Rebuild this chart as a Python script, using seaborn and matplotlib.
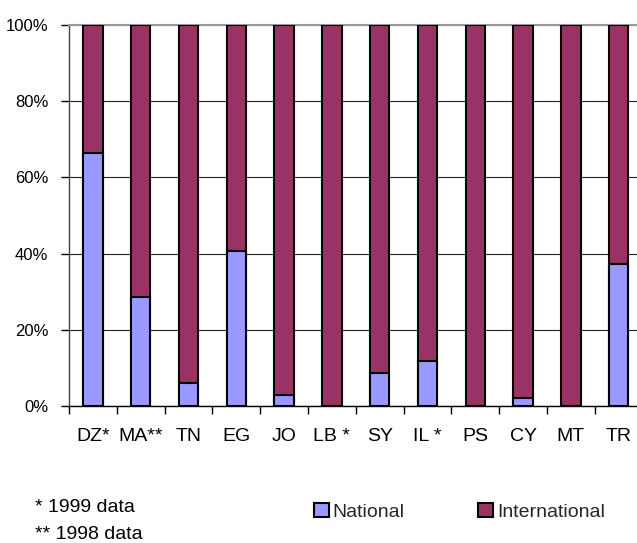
import matplotlib
matplotlib.use('Agg')
import matplotlib.pyplot as plt
import seaborn as sns
import pandas as pd
from matplotlib.patches import Patch
from matplotlib.ticker import FixedLocator, PercentFormatter

# ---- data ----
countries = ["DZ*", "MA**", "TN", "EG", "JO", "LB *", "SY", "IL *", "PS", "CY", "MT", "TR"]
national = [66.5, 28.7, 6.1, 40.7, 2.9, 0.0, 8.7, 11.8, 0.0, 2.2, 0.0, 37.2]
international = [33.5, 71.3, 93.9, 59.3, 97.1, 100.0, 91.3, 88.2, 100.0, 97.8, 100.0, 62.8]
series_labels = ["National", "International"]
footnotes = ["* 1999 data", "** 1998 data"]
y_ticks = [0, 20, 40, 60, 80, 100]

nat_color = "#9999FF"
intl_color = "#993366"

df = pd.DataFrame({"country": countries, "national": national,
                   "international": international})
df["total"] = df["national"] + df["international"]

sns.set_theme(style="white")
plt.rcParams["font.family"] = ["Liberation Sans", "DejaVu Sans"]

fs_x = 14
fs_y = 12
fs_leg = 14
fs_note = 14

W, H = 637, 543
fig = plt.figure(figsize=(W / 100, H / 100), dpi=100)
ax = fig.add_axes([69 / W, 1 - 406 / H, 573.6 / W, 381 / H])

sns.barplot(data=df, x="country", y="total", color=intl_color, saturation=1,
            width=0.41, edgecolor="black", linewidth=1.5, ax=ax, zorder=3)
sns.barplot(data=df, x="country", y="national", color=nat_color, saturation=1,
            width=0.41, edgecolor="black", linewidth=1.5, ax=ax, zorder=4)

ax.set_xlim(-0.5, len(countries) - 0.5)
ax.set_ylim(0, 100)
ax.set_yticks(y_ticks)
ax.yaxis.set_major_formatter(PercentFormatter(decimals=0))
ax.set_xlabel("")
ax.set_ylabel("")

ax.yaxis.grid(True, color="#222222", linewidth=0.8)
ax.xaxis.grid(False)
ax.set_axisbelow(True)

ax.tick_params(axis="x", which="major", length=0, pad=16, labelsize=fs_x,
               labelcolor="black")
ax.xaxis.set_minor_locator(FixedLocator([i - 0.5 for i in range(len(countries) + 1)]))
ax.tick_params(axis="x", which="minor", bottom=True, length=6, width=1,
               color="black", direction="out")
ax.tick_params(axis="y", which="major", left=True, length=6, width=1,
               color="black", direction="out", pad=9, labelsize=fs_y,
               labelcolor="black")

for s in ["left", "bottom", "top", "right"]:
    ax.spines[s].set_visible(True)
ax.spines["left"].set_color("#444444")
ax.spines["left"].set_linewidth(1)
ax.spines["bottom"].set_color("black")
ax.spines["bottom"].set_linewidth(1)
ax.spines["top"].set_color("#999999")
ax.spines["top"].set_linewidth(1.5)
ax.spines["right"].set_color("#444444")

# footnotes
fig.text(35 / W, 1 - 512 / H, footnotes[0], va="baseline", ha="left",
         fontsize=fs_note, color="black")
fig.text(35 / W, 1 - 539 / H, footnotes[1], va="baseline", ha="left",
         fontsize=fs_note, color="black")

handles = [Patch(facecolor=nat_color, edgecolor="black", linewidth=1.5, label=series_labels[0]),
           Patch(facecolor=intl_color, edgecolor="black", linewidth=1.5, label=series_labels[1])]
fig.legend(handles=handles, loc="center left", bbox_to_anchor=(314 / W, 1 - 512 / H),
           ncol=2, frameon=False, fontsize=fs_leg, handlelength=0.75,
           handleheight=0.75, handletextpad=0.2, columnspacing=3.8,
           borderpad=0, borderaxespad=0)

fig.savefig("out.png", dpi=100)
